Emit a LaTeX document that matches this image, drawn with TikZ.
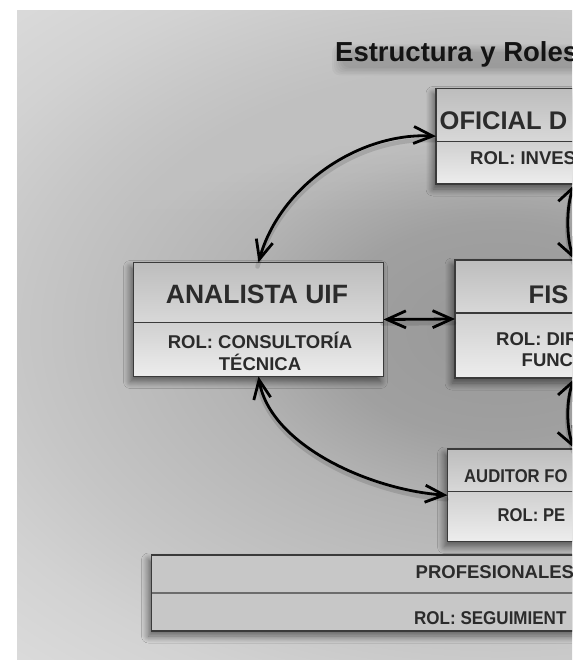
\documentclass[tikz,border=0pt]{standalone}
\usepackage{fontspec}
\setmainfont{Liberation Sans}
\usetikzlibrary{arrows.meta,shadows.blur}
\definecolor{bgc0}{HTML}{989898}
\definecolor{bgc1}{HTML}{A0A0A0}
\definecolor{bgc2}{HTML}{B4B4B4}
\definecolor{bgc3}{HTML}{C6C6C6}
\definecolor{bgc4}{HTML}{D2D2D2}
\definecolor{bgc5}{HTML}{DADADA}
\definecolor{hdtop}{HTML}{BDBDBD}
\definecolor{hdbot}{HTML}{D8D8D8}
\definecolor{subtop}{HTML}{D0D0D0}
\definecolor{subbot}{HTML}{EDEDED}
\definecolor{profc}{HTML}{C7C7C7}
\definecolor{linec}{HTML}{3A3A3A}
\definecolor{txtc}{HTML}{2B2B2B}
\definecolor{titlec}{HTML}{141414}
\pgfdeclareradialshading{bgrad}{\pgfpoint{0bp}{0bp}}{color(0bp)=(bgc0); color(6bp)=(bgc1); color(10bp)=(bgc2); color(17bp)=(bgc3); color(21bp)=(bgc4); color(25bp)=(bgc5); color(50bp)=(bgc5)}
\tikzset{
  boxbase/.style={rectangle, inner sep=0pt, outer sep=0pt, fill=hdbot,
    blur shadow={shadow xshift=-3pt, shadow yshift=-5pt, shadow blur radius=7pt, shadow blur steps=12, shadow opacity=55}},
  boxline/.style={draw=linec, line width=1.4pt},
  divline/.style={draw=linec, line width=1.3pt},
  titletext/.style={font=\bfseries\fontsize{27.5}{32}\selectfont, text=titlec, inner sep=0pt, anchor=base west},
  hdtext/.style={font=\bfseries\fontsize{25.5}{30}\selectfont, text=txtc, inner sep=0pt, anchor=base west},
  subtext/.style={font=\bfseries\fontsize{18.5}{22}\selectfont, text=txtc, inner sep=0pt, anchor=base west},
  conn/.style={line width=2.8pt, black, {Straight Barb[length=19pt,width=17pt]}-{Straight Barb[length=19pt,width=17pt]}},
  connshadow/.style={line width=4.5pt, black, opacity=0.12, line cap=round},
  haze/.style={fill=black, opacity=0.03, rounded corners=8pt},
  lighten/.style={fill=white, opacity=0.016},
}
\newcommand\rolebox[6]{%
  \node[boxbase, minimum width={#4-#2}, minimum height={#6-#3}] (#1) at ({(#2+#4)/2},{(#3+#6)/2}) {};
  \shade[top color=hdtop, bottom color=hdbot] (#2,#3) rectangle (#4,#5);
  \shade[top color=subtop, bottom color=subbot] (#2,#5) rectangle (#4,#6);
  \draw[boxline] (#2,#3) rectangle (#4,#6);
  \draw[divline] (#2,#5) -- (#4,#5);
}
\begin{document}
\begin{tikzpicture}[x=1pt,y=-1pt]
\useasboundingbox (0,0) rectangle (572,660);
\clip (0,0) rectangle (572,660);
\fill[white] (0,0) rectangle (572,660);
\begin{scope}
  \clip (17,11) rectangle (572,660);
  \fill[bgc5] (17,11) rectangle (572,660);
  \shade[shading=bgrad] (-200,-120) rectangle (1200,780);
  \foreach \i in {1,...,22}
    \fill[lighten] (17,11) rectangle (572,{11+9*\i});
\end{scope}

% title with soft haze below
\foreach \k in {0,...,5}
  \fill[haze] (342-2*\k,52-1.5*\k) rectangle (600+2*\k,68+1.5*\k);
\node[titletext] (title) at (335,61.7) {Estructura y Roles};

% boxes
\rolebox{ofi}{436}{88.5}{714}{141.5}{184}
\rolebox{ana}{133.5}{262.5}{383.5}{322.5}{376.5}
\rolebox{fis}{455}{260}{695}{313}{378}
\rolebox{aud}{447.5}{449}{702.5}{491.7}{541.5}
\node[boxbase, fill=profc, minimum width=848.5, minimum height=76] (prof) at (575.75,593) {};
\draw[boxline] (151.5,555) rectangle (1000,631);
\draw[draw=gray!85!black, line width=2.4pt] (152.2,593) -- (1000,593);

% texts
\node[hdtext] (ofiH) at (439.5,129.3) {OFICIAL D};
\node[subtext] (ofiS) at (470,165) {ROL: INVES};
\node[hdtext, font=\bfseries\fontsize{26.5}{30}\selectfont, anchor=base] (anaH) at (257,303.3) {ANALISTA UIF};
\node[subtext, anchor=base] (anaS1) at (260,348.3) {ROL: CONSULTORÍA};
\node[subtext, anchor=base] (anaS2) at (260,370) {TÉCNICA};
\node[hdtext] (fisH) at (528.5,303) {FIS};
\node[subtext] (fisS1) at (496,345) {ROL: DIR};
\node[subtext] (fisS2) at (521.5,366.7) {FUNC};
\node[subtext] (audH) at (464,482.7) {\scalebox{0.9}[1]{AUDITOR FO}};
\node[subtext] (audS) at (497.5,521.7) {\scalebox{0.9}[1]{ROL: PE}};
\node[subtext] (profH) at (415.5,578.3) {PROFESIONALES};
\node[subtext] (profS) at (414,624) {\scalebox{0.92}[1]{ROL: SEGUIMIENT}};

% connector shadows
\begin{scope}[transform canvas={shift={(-1,4)}}]
\draw[connshadow] (ana.north) .. controls (280,185) and (360,132) .. (ofi.west);
\draw[connshadow] (ana.east) -- (fis.west);
\draw[connshadow] (ana.south) .. controls (270,445) and (370,490) .. (aud.west);
\draw[connshadow] (ofi.south) .. controls (566,205) and (566,240) .. (fis.north);
\draw[connshadow] (fis.south) .. controls (566,398) and (566,430) .. (aud.north);
\end{scope}

% connectors
\draw[conn] (ana.north) .. controls (280,185) and (360,132) .. (ofi.west);
\draw[conn] (ana.east) -- (fis.west);
\draw[conn] (ana.south) .. controls (270,445) and (370,490) .. (aud.west);
\draw[conn] (ofi.south) .. controls (566,205) and (566,240) .. (fis.north);
\draw[conn] (fis.south) .. controls (566,398) and (566,430) .. (aud.north);
\end{tikzpicture}
\end{document}
